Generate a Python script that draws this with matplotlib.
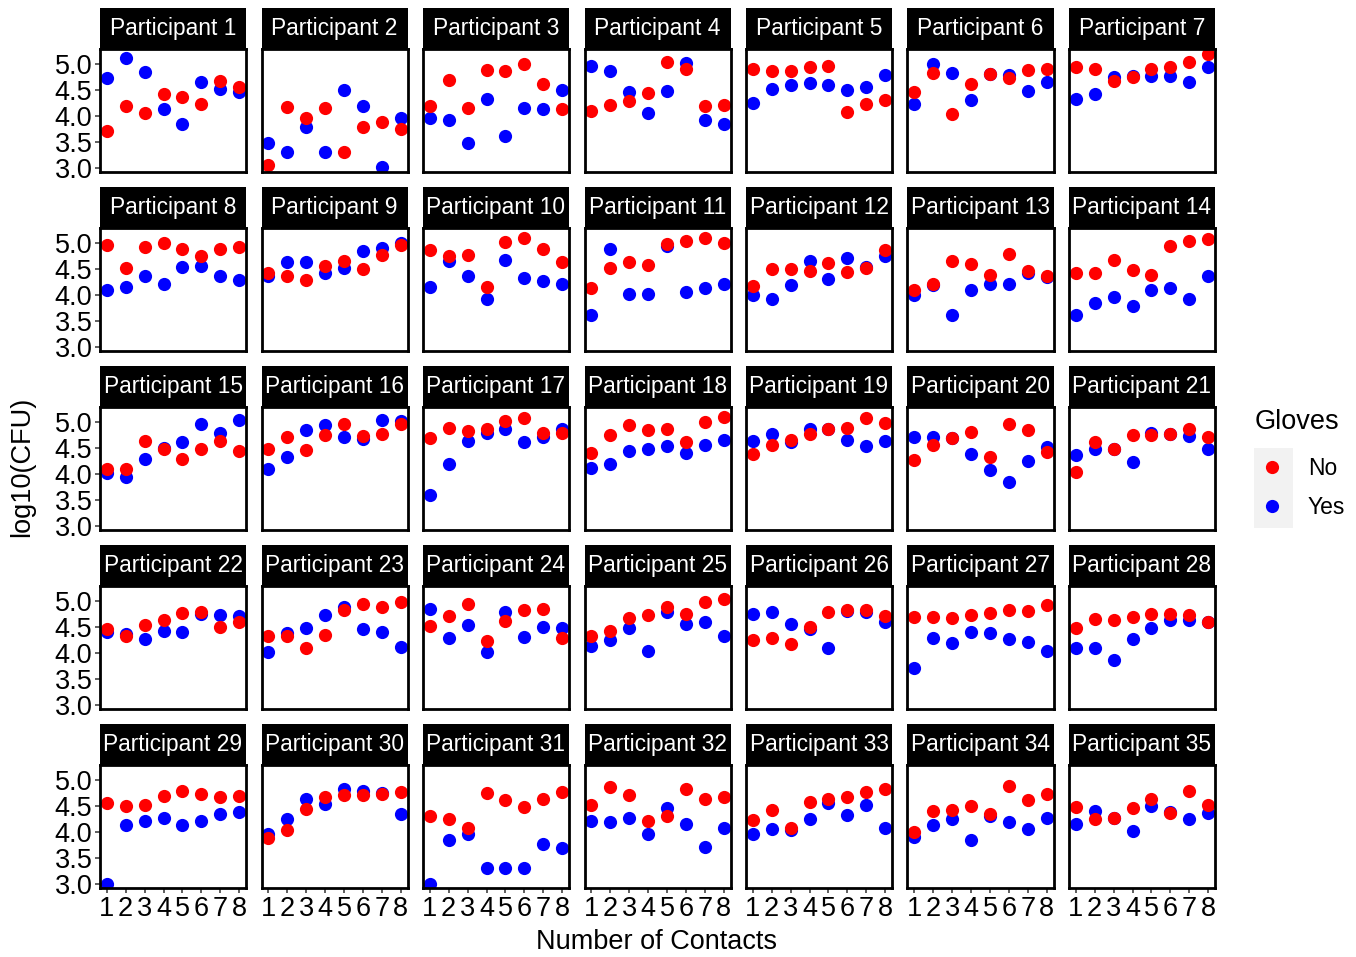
import matplotlib.pyplot as plt
from matplotlib.lines import Line2D
from matplotlib.patches import Rectangle

plt.rcParams['font.family'] = ['Liberation Sans', 'DejaVu Sans']

contacts = [1, 2, 3, 4, 5, 6, 7, 8]
participants = [f"Participant {i}" for i in range(1, 36)]

# log10(CFU) without gloves, one row per participant
gloves_no = [
    [3.71, 4.18, 4.06, 4.41, 4.35, 4.22, 4.66, 4.56],
    [3.05, 4.16, 3.96, 4.15, 3.30, 3.78, 3.87, 3.74],
    [4.18, 4.68, 4.15, 4.87, 4.86, 5.00, 4.60, 4.12],
    [4.09, 4.21, 4.29, 4.44, 5.03, 4.89, 4.18, 4.21],
    [4.90, 4.85, 4.86, 4.93, 4.96, 4.07, 4.22, 4.31],
    [4.45, 4.81, 4.03, 4.61, 4.80, 4.72, 4.87, 4.89],
    [4.94, 4.89, 4.67, 4.74, 4.89, 4.93, 5.03, 5.19],
    [4.96, 4.51, 4.92, 4.99, 4.88, 4.74, 4.88, 4.92],
    [4.41, 4.35, 4.28, 4.55, 4.65, 4.49, 4.76, 4.95],
    [4.85, 4.74, 4.76, 4.15, 5.01, 5.08, 4.88, 4.62],
    [4.12, 4.51, 4.63, 4.57, 4.98, 5.04, 5.08, 5.00],
    [4.16, 4.49, 4.50, 4.46, 4.60, 4.44, 4.51, 4.86],
    [4.09, 4.21, 4.65, 4.59, 4.37, 4.78, 4.46, 4.36],
    [4.41, 4.42, 4.66, 4.48, 4.37, 4.93, 5.03, 5.06],
    [4.10, 4.09, 4.63, 4.48, 4.29, 4.48, 4.62, 4.44],
    [4.48, 4.71, 4.46, 4.74, 4.96, 4.73, 4.77, 4.96],
    [4.68, 4.88, 4.82, 4.85, 5.01, 5.06, 4.78, 4.79],
    [4.39, 4.74, 4.93, 4.83, 4.86, 4.61, 4.99, 5.08],
    [4.37, 4.56, 4.65, 4.76, 4.85, 4.88, 5.06, 4.98],
    [4.27, 4.56, 4.68, 4.80, 4.32, 4.96, 4.83, 4.41],
    [4.04, 4.60, 4.47, 4.74, 4.75, 4.76, 4.85, 4.71],
    [4.46, 4.32, 4.53, 4.62, 4.76, 4.79, 4.50, 4.58],
    [4.32, 4.32, 4.09, 4.34, 4.81, 4.93, 4.87, 4.98],
    [4.51, 4.71, 4.93, 4.23, 4.60, 4.82, 4.83, 4.29],
    [4.33, 4.41, 4.67, 4.72, 4.87, 4.74, 4.97, 5.04],
    [4.24, 4.28, 4.16, 4.50, 4.78, 4.81, 4.81, 4.71],
    [4.69, 4.68, 4.66, 4.73, 4.76, 4.82, 4.80, 4.91],
    [4.48, 4.65, 4.62, 4.68, 4.74, 4.75, 4.73, 4.58],
    [4.55, 4.49, 4.52, 4.68, 4.78, 4.73, 4.66, 4.68],
    [3.88, 4.04, 4.43, 4.67, 4.70, 4.70, 4.72, 4.77],
    [4.30, 4.24, 4.08, 4.74, 4.60, 4.48, 4.62, 4.77],
    [4.52, 4.85, 4.71, 4.21, 4.31, 4.82, 4.63, 4.67],
    [4.23, 4.42, 4.08, 4.57, 4.62, 4.67, 4.77, 4.81],
    [4.00, 4.40, 4.42, 4.50, 4.34, 4.88, 4.61, 4.72],
    [4.47, 4.24, 4.26, 4.45, 4.62, 4.35, 4.79, 4.52],
]

# log10(CFU) with gloves
gloves_yes = [
    [4.72, 5.11, 4.84, 4.12, 3.84, 4.65, 4.51, 4.45],
    [3.48, 3.30, 3.78, 3.30, 4.49, 4.18, 3.01, 3.96],
    [3.95, 3.91, 3.48, 4.33, 3.61, 4.14, 4.12, 4.49],
    [4.95, 4.85, 4.45, 4.05, 4.47, 5.01, 3.91, 3.85],
    [4.24, 4.51, 4.58, 4.62, 4.58, 4.49, 4.56, 4.79],
    [4.23, 5.00, 4.82, 4.31, 4.80, 4.78, 4.47, 4.65],
    [4.32, 4.42, 4.75, 4.76, 4.76, 4.77, 4.65, 4.94],
    [4.09, 4.15, 4.35, 4.21, 4.53, 4.55, 4.35, 4.28],
    [4.35, 4.62, 4.62, 4.41, 4.51, 4.83, 4.90, 5.00],
    [4.15, 4.64, 4.35, 3.91, 4.67, 4.32, 4.27, 4.21],
    [3.62, 4.88, 4.01, 4.02, 4.94, 4.06, 4.13, 4.20],
    [4.00, 3.91, 4.19, 4.65, 4.30, 4.70, 4.53, 4.74],
    [4.00, 4.18, 3.61, 4.09, 4.21, 4.21, 4.41, 4.34],
    [3.61, 3.85, 3.96, 3.79, 4.09, 4.12, 3.91, 4.35],
    [4.02, 3.93, 4.28, 4.49, 4.60, 4.95, 4.78, 5.04],
    [4.10, 4.32, 4.84, 4.94, 4.71, 4.67, 5.04, 5.01],
    [3.60, 4.18, 4.62, 4.79, 4.86, 4.60, 4.71, 4.85],
    [4.11, 4.18, 4.43, 4.48, 4.54, 4.39, 4.56, 4.64],
    [4.63, 4.76, 4.61, 4.85, 4.85, 4.64, 4.53, 4.63],
    [4.71, 4.71, 4.68, 4.37, 4.07, 3.84, 4.25, 4.51],
    [4.35, 4.47, 4.47, 4.23, 4.79, 4.76, 4.73, 4.48],
    [4.39, 4.35, 4.27, 4.42, 4.39, 4.74, 4.73, 4.71],
    [4.01, 4.37, 4.47, 4.73, 4.88, 4.46, 4.39, 4.11],
    [4.84, 4.28, 4.53, 4.01, 4.79, 4.30, 4.50, 4.48],
    [4.12, 4.25, 4.47, 4.03, 4.79, 4.56, 4.58, 4.32],
    [4.74, 4.78, 4.55, 4.46, 4.09, 4.80, 4.78, 4.59],
    [3.71, 4.28, 4.18, 4.39, 4.37, 4.26, 4.20, 4.03],
    [4.09, 4.09, 3.86, 4.27, 4.48, 4.63, 4.63, 4.58],
    [3.00, 4.12, 4.21, 4.26, 4.12, 4.21, 4.34, 4.38],
    [3.96, 4.24, 4.63, 4.54, 4.81, 4.79, 4.75, 4.34],
    [3.00, 3.85, 3.95, 3.30, 3.30, 3.30, 3.77, 3.69],
    [4.21, 4.18, 4.26, 3.96, 4.46, 4.15, 3.70, 4.08],
    [3.95, 4.05, 4.03, 4.24, 4.56, 4.33, 4.52, 4.08],
    [3.90, 4.12, 4.25, 3.85, 4.31, 4.18, 4.05, 4.26],
    [4.15, 4.40, 4.26, 4.01, 4.50, 4.37, 4.24, 4.35],
]

y_ticks = [3.0, 3.5, 4.0, 4.5, 5.0]

W, H = 1356, 957
fig = plt.figure(figsize=(W / 100, H / 100), dpi=100)

ncol, nrow = 7, 5
pw, ph, sh = 146, 123, 41
for k in range(len(participants)):
    r, c = divmod(k, ncol)
    x0 = 100 + c * 161.5
    top = 49 + r * 179
    ax = fig.add_axes([x0 / W, 1 - (top + ph) / H, pw / W, ph / H])
    ax.plot(contacts, gloves_yes[k], 'o', color='#0000FF', markersize=9.5, mec='none')
    ax.plot(contacts, gloves_no[k], 'o', color='#FF0000', markersize=9.5, mec='none')
    ax.set_xlim(0.65, 8.35)
    ax.set_ylim(2.92, 5.28)
    ax.set_xticks(contacts)
    ax.set_yticks(y_ticks)
    for s in ax.spines.values():
        s.set_linewidth(2.0)
        s.set_color('black')
    ax.tick_params(length=3.5, width=1.1, color='#333333', labelsize=19.5, pad=2)
    if c != 0:
        ax.tick_params(axis='y', left=False, labelleft=False)
    else:
        ax.set_yticklabels([f"{v:.1f}" for v in y_ticks])
    if r != nrow - 1:
        ax.tick_params(axis='x', bottom=False, labelbottom=False)

    # facet strip
    sax = fig.add_axes([x0 / W, 1 - (top) / H, pw / W, sh / H])
    sax.set_facecolor('black')
    sax.set_xticks([])
    sax.set_yticks([])
    for s in sax.spines.values():
        s.set_visible(False)
    sax.text(0.5, 0.5, participants[k], color='white', fontsize=16.4,
             ha='center', va='center', transform=sax.transAxes)

fig.text(657 / W, 1 - 942 / H, 'Number of Contacts', fontsize=19.5,
         ha='center', va='center')
fig.text(22 / W, 1 - 467 / H, 'log10(CFU)', fontsize=19.5, rotation=90,
         ha='center', va='center')

# legend
fig.patches.append(Rectangle((1254 / W, 1 - 528 / H), 39 / W, 80 / H,
                             transform=fig.transFigure, facecolor='#F2F2F2',
                             edgecolor='none', zorder=0))
fig.text(1255 / W, 1 - 422 / H, 'Gloves', fontsize=19.5, ha='left', va='center')
handles = [Line2D([], [], ls='none', marker='o', color='#FF0000', mec='none', markersize=9.5),
           Line2D([], [], ls='none', marker='o', color='#0000FF', mec='none', markersize=9.5)]
fig.legend(handles, ['No', 'Yes'], loc='center left',
           bbox_to_anchor=(1246 / W, 1 - 488 / H), frameon=False, fontsize=16.5,
           labelspacing=0.72, handlelength=1.5, handletextpad=0.8, borderaxespad=0)

fig.savefig('out.png', dpi=100)
